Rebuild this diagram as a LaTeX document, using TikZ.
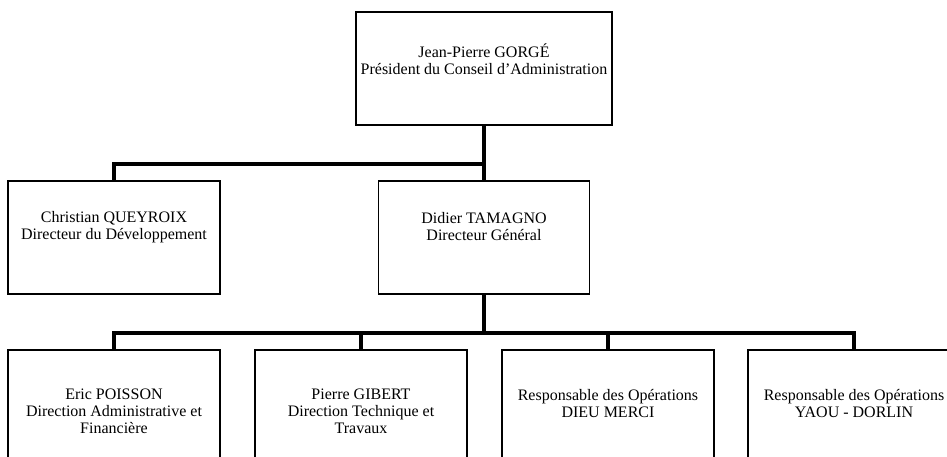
\documentclass[tikz,border=0pt]{standalone}
\usepackage{fontspec}
\setmainfont{Liberation Serif}
\usetikzlibrary{positioning}
\tikzset{
  orgbox/.style={draw, line width=1.3pt, minimum width=212pt, minimum height=113pt, inner sep=0pt},
  orgtext/.style={align=center, inner sep=0pt, font=\fontsize{16}{17}\selectfont},
  link/.style={line width=4pt}
}
\begin{document}
\begin{tikzpicture}[x=1pt,y=-1pt]
\useasboundingbox (0,0) rectangle (947,456);
\clip (0,0) rectangle (947,456);
% boxes
\node[orgbox, minimum width=256pt] (pres) at (484,68.5) {};
\node[orgbox] (chris) at (114,237.5) {};
\node[orgbox, minimum width=211pt] (didier) at (484,237.5) {};
\node[orgbox] (eric) at (114,406.5) {};
\node[orgbox] (gibert) at (361,406.5) {};
\node[orgbox] (dieu) at (608,406.5) {};
\node[orgbox] (yaou) at (854,406.5) {};
% texts
\node[orgtext] (prestext) at (484,59) {Jean-Pierre GORGÉ\\Président du Conseil d'Administration};
\node[orgtext] (christext) at (114,227) {Christian QUEYROIX\\Directeur du Développement};
\node[orgtext] (didiertext) at (484,227) {Didier TAMAGNO\\Directeur Général};
\node[orgtext] (erictext) at (114,411) {Eric POISSON\\Direction Administrative et\\Financière};
\node[orgtext] (giberttext) at (361,411) {Pierre GIBERT\\Direction Technique et\\Travaux};
\node[orgtext] (dieutext) at (608,403.5) {Responsable des Opérations\\DIEU MERCI};
\node[orgtext] (yaoutext) at (854,403.5) {Responsable des Opérations\\YAOU - DORLIN};
% links
\coordinate (topbus) at (484,164);
\coordinate (lowbus) at (484,333);
\draw[link] (pres.south) -- (topbus);
\draw[link] (topbus) -| (chris.north);
\draw[link] (topbus) -- (didier.north);
\draw[link] (didier.south) -- (lowbus);
\draw[link] (lowbus) -| (eric.north);
\draw[link] (lowbus) -| (gibert.north);
\draw[link] (lowbus) -| (dieu.north);
\draw[link] (lowbus) -| (yaou.north);
\end{tikzpicture}
\end{document}
